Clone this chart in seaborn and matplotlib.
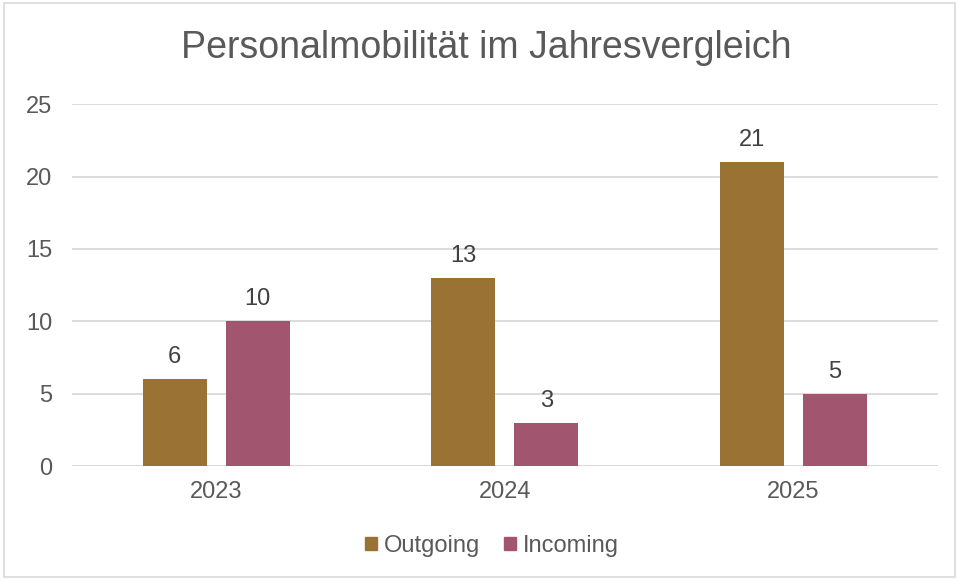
import matplotlib
matplotlib.use("Agg")
import matplotlib.pyplot as plt
import matplotlib.patches as mpatches
import seaborn as sns
import pandas as pd

# Data
years = ["2023", "2024", "2025"]
outgoing = [6, 13, 21]
incoming = [10, 3, 5]
series = ["Outgoing", "Incoming"]
colors = ["#9A7334", "#A1556F"]
text_gray = "#595959"
grid_gray = "#D9D9D9"

df = pd.DataFrame({
    "Jahr": years * 2,
    "Wert": outgoing + incoming,
    "Serie": [series[0]] * len(years) + [series[1]] * len(years),
})

sns.set_theme(style="white")
plt.rcParams["font.family"] = ["Liberation Sans", "DejaVu Sans"]

fig = plt.figure(figsize=(9.57, 5.79), dpi=100)
ax = fig.add_axes([0.075, 0.195, 0.905, 0.625])

sns.barplot(data=df, x="Jahr", y="Wert", hue="Serie", palette=colors,
            saturation=1, width=0.575, gap=0.23, linewidth=0,
            legend=False, ax=ax, zorder=3)

ax.set_ylim(0, 25)
ax.set_xlim(-0.5, 2.5)
ax.set_yticks(range(0, 26, 5))
ax.yaxis.grid(True, color=grid_gray, linewidth=1.3, zorder=0)
for s in ax.spines.values():
    s.set_visible(False)
ax.axhline(0, color=grid_gray, linewidth=1.3, zorder=2)
ax.tick_params(axis="y", length=0, pad=14, labelsize=17, labelcolor=text_gray)
ax.tick_params(axis="x", length=0, pad=11, labelsize=17, labelcolor=text_gray)
ax.set_xlabel("")
ax.set_ylabel("")

for c in ax.containers:
    ax.bar_label(c, padding=8, fontsize=17, color="#404040")

fig.text(0.508, 0.917, "Personalmobilität im Jahresvergleich", fontsize=27,
         color=text_gray, ha="center", va="center")

handles = [mpatches.Patch(color=c, label=s) for s, c in zip(series, colors)]
fig.legend(handles=handles, loc="center", bbox_to_anchor=(0.514, 0.057),
           ncol=2, frameon=False, fontsize=17, handlelength=0.5,
           handleheight=0.5, handletextpad=0.3, columnspacing=1.0,
           labelcolor=text_gray)

fig.patches.append(mpatches.Rectangle((0.004, 0.004), 0.994, 0.99,
                                      transform=fig.transFigure, fill=False,
                                      edgecolor=grid_gray, linewidth=1.2))

fig.savefig("out.png", dpi=100)
